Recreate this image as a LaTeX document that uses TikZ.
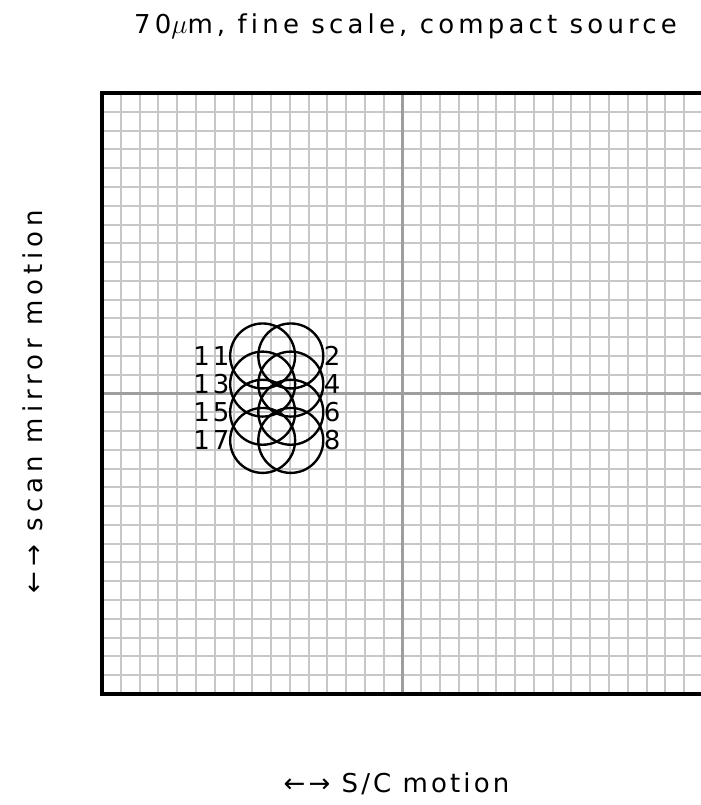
\documentclass[tikz,border=0pt]{standalone}
\usepackage{fontspec}
\setmainfont{DejaVu Sans}[LetterSpace=12, Ligatures=NoCommon]
\usetikzlibrary{positioning}

\begin{document}
\begin{tikzpicture}[
    x=0.5cm, y=0.5cm,
    font=\fontsize{19.7}{24}\selectfont,
    fine/.style={draw=black!22, line width=1.5pt},
    midline/.style={draw=black!38, line width=2.2pt},
    frame/.style={draw=black, line width=2.6pt},
    beam/.style={draw=black, line width=1.8pt},
    num/.style={inner sep=0pt},
    wide/.style={font=\fontsize{19.7}{24}\selectfont\addfontfeature{LetterSpace=#1}}
  ]
    \useasboundingbox (-21.44,-21.92) rectangle (15.9,20.96);
    \foreach \k in {-15,...,15} {
      \draw[fine] (\k,-16) -- (\k,16);
      \draw[fine] (-16,\k) -- (16,\k);
    }
    \draw[midline] (0,-16) -- (0,16);
    \draw[midline] (-16,0) -- (16,0);
    \draw[frame] (-16,-16) rectangle (16,16);

    \foreach \y/\l/\r in {2.0/11/2,0.5/13/4,-1.0/15/6,-2.5/17/8} {
      \draw[beam] (-7.45,\y) circle (1.73);
      \draw[beam] (-5.95,\y) circle (1.73);
      \node[num, anchor=east] (left\l) at (-9.2,\y) {\l};
      \node[num, anchor=west] (right\r) at (-4.2,\y) {\r};
    }

    \node[wide=16, anchor=base] (title) at (0.16,19.15) {70$\mu$m, fine scale, compact source};
    \node[wide=19, rotate=90, anchor=base] (ylabel) at (-19.15,-0.43) {←→ scan mirror motion};
    \node[anchor=base] (xlabel) at (-0.32,-21.28) {←→ S/C motion};
  \end{tikzpicture}
\end{document}
